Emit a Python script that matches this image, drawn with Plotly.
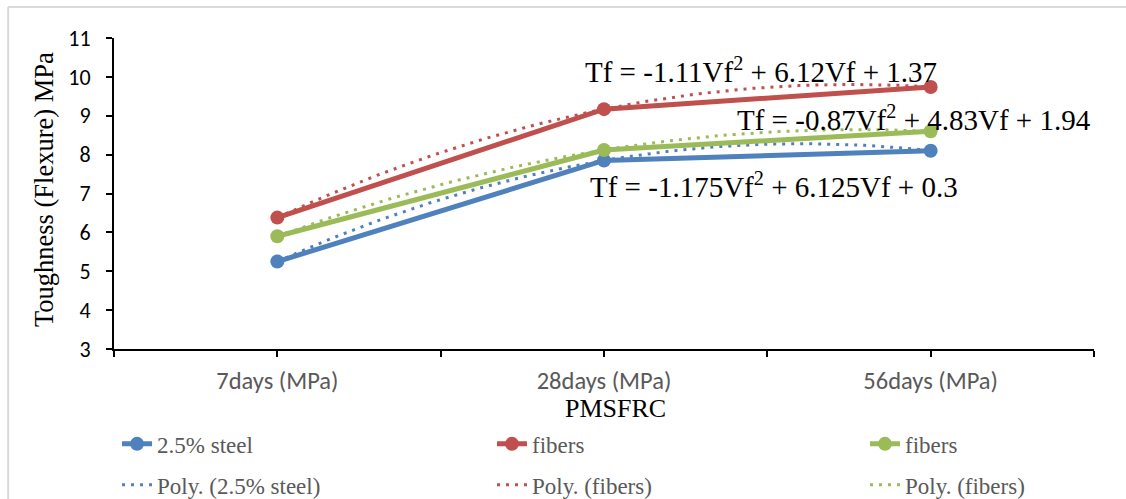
import numpy as np
import plotly.graph_objects as go

categories = ["7days (MPa)", "28days (MPa)", "56days (MPa)"]
steel = [5.25, 7.85, 8.10]
fibers_red = [6.38, 9.17, 9.74]
fibers_green = [5.90, 8.12, 8.60]
series_names = ["2.5% steel", "fibers", "fibers"]
trend_names = ["Poly. (2.5% steel)", "Poly. (fibers)", "Poly. (fibers)"]
equations = ["Tf = -1.175Vf<sup>2</sup> + 6.125Vf + 0.3",
             "Tf = -1.11Vf<sup>2</sup> + 6.12Vf + 1.37",
             "Tf = -0.87Vf<sup>2</sup> + 4.83Vf + 1.94"]
eq_pos = [(1.52, 7.22), (1.48, 10.18), (1.95, 8.94)]
colors = ["#4F81BD", "#C0504D", "#9BBB59"]
legend_ids = ["legend", "legend2", "legend3"]
legend_x = [0.0031, 0.3857, 0.7663]

SERIF = "Liberation Serif, Times New Roman, serif"
SANS = "Carlito, Calibri, 'Open Sans', sans-serif"

xi = np.arange(len(categories))
data = [steel, fibers_red, fibers_green]

fig = go.Figure()
xs = np.linspace(0, len(categories) - 1, 100)
for k, (vals, name, tname, col, lg) in enumerate(zip(data, series_names, trend_names, colors, legend_ids)):
    fig.add_trace(go.Scatter(x=xi, y=vals, mode="lines+markers", name=name,
                             legend=lg, legendgroup=f"s{k}",
                             line=dict(color=col, width=5),
                             marker=dict(size=14, color=col)))
    c = np.polyfit(xi, vals, 2)
    fig.add_trace(go.Scatter(x=xs, y=np.polyval(c, xs), mode="lines", name=tname,
                             legend=lg, legendgroup=f"t{k}",
                             line=dict(color=col, width=3, dash="3px,6px")))

for txt, (x, y) in zip(equations, eq_pos):
    fig.add_annotation(x=x, y=y, xref="x", yref="y", text=txt, showarrow=False,
                       font=dict(family=SERIF, size=29, color="#000000"))

fig.add_annotation(x=0.512, y=-0.19, xref="paper", yref="paper", text="PMSFRC",
                   showarrow=False, xanchor="center", yanchor="middle",
                   font=dict(family=SERIF, size=26, color="#000000"))
fig.add_annotation(x=-0.0714, y=0.511, xref="paper", yref="paper",
                   text="Toughness (Flexure) MPa", textangle=-90, showarrow=False,
                   xanchor="center", yanchor="middle",
                   font=dict(family=SERIF, size=26.5, color="#000000"))

# chart-area border (top and left edges visible)
fig.add_shape(type="line", xref="paper", yref="paper", x0=-0.108, x1=1.05, y0=1.0997, y1=1.0997,
              line=dict(color="#d9d9d9", width=2))
fig.add_shape(type="line", xref="paper", yref="paper", x0=-0.108, x1=-0.108, y0=1.0997, y1=-0.5,
              line=dict(color="#d9d9d9", width=2))

fig.update_xaxes(range=[-0.5, 2.5], tickmode="array", tickvals=list(xi), ticktext=categories,
                 showgrid=False, zeroline=False, showline=True, linecolor="#000000", linewidth=2,
                 ticks="outside", ticklen=6, tickwidth=2, tickcolor="#000000",
                 ticklabelstandoff=3, automargin=False,
                 minor=dict(ticks="outside", ticklen=6, tickwidth=2, tickcolor="#000000",
                            tick0=-0.5, dtick=1),
                 tickfont=dict(family=SANS, size=24.5, color="#595959"))
fig.update_yaxes(range=[3, 11], dtick=1, showgrid=False, zeroline=False, showline=True,
                 linecolor="#000000", linewidth=2, ticks="outside", ticklen=6, tickwidth=2,
                 tickcolor="#000000", ticklabelstandoff=11, automargin=False,
                 tickfont=dict(family=SANS, size=22, color="#000000"))

leg_common = dict(orientation="v", y=-0.236, xanchor="left", yanchor="top",
                  tracegroupgap=8, bgcolor="rgba(0,0,0,0)",
                  font=dict(family=SERIF, size=23, color="#595959"))
layout_legends = {lg: dict(x=lx, **leg_common) for lg, lx in zip(legend_ids, legend_x)}

fig.update_layout(width=1126, height=499,
                  margin=dict(l=114, r=32, t=38, b=150, autoexpand=False),
                  paper_bgcolor="white", plot_bgcolor="white", showlegend=True,
                  **layout_legends)
fig.write_html("out.html", config={"displayModeBar": False},
               post_script="document.body.style.margin='0';document.body.style.padding='0';")
